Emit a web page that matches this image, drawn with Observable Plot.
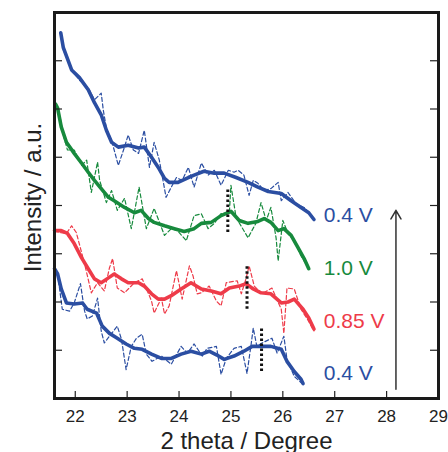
<!DOCTYPE html>
<html>
<head>
<meta charset="utf-8">
<script src="https://cdn.jsdelivr.net/npm/d3@7"></script>
<script src="https://cdn.jsdelivr.net/npm/@observablehq/plot@0.6"></script>
<style>
  html, body { margin: 0; padding: 0; background: #fff; }
</style>
</head>
<body>
<div id="chart"></div>
<script>
// ---- tick values ----
const xTicks = [22, 23, 24, 25, 26, 27, 28, 29];
const yTicks = [1, 2, 3, 4, 5, 6, 7];

// ---- 0.4 V (top, after cycling) ----
const topSmoothX = [21.72, 21.77, 21.93, 22.08, 22.25, 22.37, 22.50, 22.60, 22.70, 22.83, 23.02, 23.22, 23.33, 23.47, 23.60, 23.72, 23.81, 23.98, 24.18, 24.29, 24.48, 24.68, 24.87, 25.10, 25.33, 25.52, 25.72, 25.97, 26.16, 26.35, 26.50, 26.60];
const topSmoothY = [7.58, 7.27, 6.81, 6.65, 6.40, 6.13, 5.88, 5.56, 5.31, 5.21, 5.25, 5.19, 5.21, 5.00, 4.79, 4.56, 4.48, 4.48, 4.58, 4.63, 4.71, 4.67, 4.67, 4.58, 4.48, 4.38, 4.29, 4.25, 4.10, 3.96, 3.85, 3.71];
const topRawX = [21.72, 21.77, 21.93, 22.08, 22.25, 22.37, 22.50, 22.54, 22.60, 22.70, 22.83, 22.93, 23.02, 23.12, 23.22, 23.33, 23.43, 23.52, 23.62, 23.75, 23.85, 23.95, 24.06, 24.18, 24.29, 24.43, 24.56, 24.68, 24.81, 24.95, 25.06, 25.14, 25.25, 25.35, 25.43, 25.52, 25.64, 25.77, 25.91, 25.97, 26.10, 26.25, 26.41, 26.50, 26.60];
const topRawY = [7.58, 7.23, 6.81, 6.60, 6.44, 6.19, 6.33, 5.98, 5.60, 5.35, 4.83, 5.15, 5.46, 5.15, 5.08, 5.56, 4.79, 5.31, 4.94, 4.17, 4.38, 4.58, 4.52, 4.79, 4.38, 4.88, 4.63, 4.73, 4.42, 4.73, 4.69, 4.73, 4.63, 4.21, 4.52, 4.46, 4.31, 4.35, 4.48, 4.10, 4.27, 4.04, 3.96, 3.85, 3.71];

// ---- 1.0 V ----
const greenSmoothX = [21.62, 21.66, 21.73, 21.83, 21.98, 22.12, 22.25, 22.37, 22.50, 22.64, 22.75, 22.95, 23.14, 23.27, 23.41, 23.52, 23.72, 23.91, 24.10, 24.29, 24.43, 24.62, 24.81, 25.00, 25.16, 25.33, 25.52, 25.64, 25.77, 25.91, 26.02, 26.16, 26.29, 26.41, 26.50];
const greenSmoothY = [6.10, 6.02, 5.63, 5.31, 5.08, 4.88, 4.69, 4.52, 4.35, 4.17, 4.10, 3.96, 3.85, 3.90, 3.73, 3.65, 3.58, 3.52, 3.46, 3.52, 3.63, 3.65, 3.79, 3.88, 3.69, 3.63, 3.67, 3.73, 3.65, 3.48, 3.52, 3.38, 3.13, 2.90, 2.69];
const greenRawX = [21.62, 21.70, 21.77, 21.85, 21.98, 22.12, 22.22, 22.31, 22.43, 22.47, 22.60, 22.70, 22.81, 22.95, 23.08, 23.23, 23.37, 23.52, 23.72, 23.85, 23.97, 24.14, 24.29, 24.43, 24.56, 24.68, 24.81, 24.97, 25.00, 25.10, 25.33, 25.48, 25.58, 25.68, 25.77, 25.87, 25.91, 26.00, 26.10, 26.22, 26.35, 26.50];
const greenRawY = [6.10, 5.88, 5.46, 5.15, 5.15, 4.83, 4.94, 4.27, 4.90, 4.52, 4.06, 4.31, 3.90, 4.15, 3.52, 4.38, 3.52, 3.94, 3.38, 3.52, 3.48, 3.27, 3.79, 3.83, 3.52, 3.63, 3.83, 3.85, 4.42, 3.75, 3.33, 3.63, 4.06, 3.69, 3.96, 3.33, 2.85, 3.69, 3.42, 3.27, 2.96, 2.69];

// ---- 0.85 V ----
const redSmoothX = [21.60, 21.73, 21.85, 21.98, 22.12, 22.25, 22.37, 22.50, 22.64, 22.75, 22.89, 23.02, 23.22, 23.33, 23.47, 23.60, 23.72, 23.85, 24.04, 24.23, 24.43, 24.62, 24.81, 24.97, 25.16, 25.29, 25.43, 25.58, 25.77, 25.97, 26.10, 26.22, 26.39, 26.50, 26.60];
const redSmoothY = [3.48, 3.48, 3.42, 3.21, 2.92, 2.69, 2.48, 2.40, 2.50, 2.58, 2.48, 2.40, 2.40, 2.33, 2.17, 2.06, 2.06, 2.13, 2.27, 2.40, 2.27, 2.23, 2.17, 2.29, 2.33, 2.38, 2.27, 2.19, 2.17, 1.98, 2.00, 2.06, 1.85, 1.67, 1.44];
const redRawX = [21.60, 21.70, 21.83, 21.93, 22.02, 22.18, 22.31, 22.43, 22.56, 22.66, 22.72, 22.81, 22.95, 23.14, 23.29, 23.47, 23.52, 23.66, 23.72, 23.81, 23.95, 24.06, 24.20, 24.27, 24.35, 24.43, 24.58, 24.72, 24.81, 24.91, 25.12, 25.20, 25.29, 25.35, 25.45, 25.60, 25.79, 25.97, 26.02, 26.08, 26.22, 26.35, 26.47, 26.60];
const redRawY = [3.48, 3.44, 3.42, 3.58, 3.44, 2.79, 2.19, 2.40, 2.23, 2.71, 2.90, 2.29, 2.19, 2.40, 2.48, 2.02, 1.77, 2.08, 1.75, 1.92, 2.65, 2.06, 2.75, 2.54, 2.17, 2.19, 2.33, 2.02, 1.92, 2.40, 2.44, 2.17, 2.48, 2.75, 2.33, 2.17, 2.29, 1.85, 1.35, 2.29, 2.27, 1.85, 1.65, 1.40];

// ---- 0.4 V (bottom, initial) ----
const botSmoothX = [21.60, 21.66, 21.73, 21.83, 21.98, 22.14, 22.23, 22.41, 22.52, 22.66, 22.81, 22.98, 23.14, 23.29, 23.47, 23.66, 23.85, 24.04, 24.23, 24.43, 24.58, 24.73, 24.87, 25.06, 25.25, 25.41, 25.58, 25.77, 25.97, 26.08, 26.22, 26.35, 26.39];
const botSmoothY = [2.69, 2.58, 2.27, 1.98, 1.96, 1.98, 1.85, 1.77, 1.50, 1.35, 1.25, 1.13, 1.04, 1.02, 0.92, 0.83, 0.83, 0.92, 0.98, 0.92, 0.98, 0.90, 0.81, 0.88, 0.98, 1.08, 1.08, 1.08, 1.02, 0.77, 0.56, 0.40, 0.31];
const botRawX = [21.60, 21.66, 21.75, 21.89, 21.98, 22.10, 22.18, 22.23, 22.33, 22.43, 22.50, 22.56, 22.70, 22.81, 22.89, 22.98, 23.08, 23.18, 23.29, 23.37, 23.48, 23.66, 23.85, 24.04, 24.16, 24.29, 24.45, 24.54, 24.72, 24.81, 24.91, 25.06, 25.20, 25.31, 25.39, 25.43, 25.50, 25.60, 25.79, 25.89, 26.02, 26.08, 26.22, 26.37];
const botRawY = [2.69, 2.58, 1.85, 1.81, 1.98, 2.38, 1.81, 1.65, 1.71, 2.08, 1.40, 1.15, 1.35, 1.50, 1.23, 0.60, 1.08, 1.25, 1.33, 0.92, 0.77, 0.88, 0.71, 1.08, 0.94, 1.13, 0.88, 1.04, 1.08, 0.50, 0.83, 1.04, 1.08, 0.52, 1.13, 1.46, 1.08, 1.15, 1.25, 0.94, 1.29, 0.81, 0.46, 0.31];

// ---- dotted peak markers ----
const markerX = [24.94, 25.31, 25.59];
const markerY1 = [3.44, 1.85, 0.56];
const markerY2 = [4.35, 2.75, 1.46];

// ---- series labels ----
const labelText = ["0.4 V", "1.0 V", "0.85 V", "0.4 V"];
const labelX = [26.79, 26.79, 26.79, 26.79];
const labelY = [3.79, 2.69, 1.60, 0.52];

// ---- arrow ----
const arrowX = 28.18;
const arrowY1 = 0.19;
const arrowY2 = 3.90;

const BLUE = "#2b4ea2", GREEN = "#178a3d", RED = "#ee3b49";
const labelColors = [BLUE, GREEN, RED, BLUE];

const zip = (xs, ys) => xs.map((x, i) => ({x, y: ys[i]}));
const series = [
  {smooth: zip(topSmoothX, topSmoothY), raw: zip(topRawX, topRawY), color: BLUE},
  {smooth: zip(greenSmoothX, greenSmoothY), raw: zip(greenRawX, greenRawY), color: GREEN},
  {smooth: zip(redSmoothX, redSmoothY), raw: zip(redRawX, redRawY), color: RED},
  {smooth: zip(botSmoothX, botSmoothY), raw: zip(botRawX, botRawY), color: BLUE}
];
const markers = markerX.map((x, i) => ({x, y1: markerY1[i], y2: markerY2[i]}));
const labels = labelText.map((t, i) => ({t, x: labelX[i], y: labelY[i], c: labelColors[i]}));

const W = 448, H = 452, mL = 54, mR = 10, mT = 12, mB = 54;
const frameW = W - mL - mR, frameH = H - mT - mB;

const marks = [];
for (const s of series) {
  marks.push(Plot.line(s.raw, {x: "x", y: "y", stroke: s.color, strokeWidth: 1.2, strokeDasharray: "4,2.5"}));
}
for (const s of series) {
  marks.push(Plot.line(s.smooth, {x: "x", y: "y", stroke: s.color, strokeWidth: 3.6, curve: "linear"}));
}
marks.push(
  Plot.ruleX(markers, {x: "x", y1: "y1", y2: "y2", stroke: "#111", strokeWidth: 3, strokeDasharray: "2.5,2.5"}),
  Plot.text(labels, {x: "x", y: "y", text: "t", fill: "c", fontSize: 21, textAnchor: "start"}),
  Plot.arrow([{x: arrowX, y1: arrowY1, y2: arrowY2}], {x1: "x", y1: "y1", x2: "x", y2: "y2", stroke: "#333", strokeWidth: 1.5, headLength: 10, headAngle: 60}),
  Plot.tickX(xTicks, {x: d => d, insetTop: frameH - 7, stroke: "#222", strokeWidth: 1.2}),
  Plot.tickY(yTicks, {y: d => d, insetRight: frameW - 8, stroke: "#222", strokeWidth: 1.2}),
  Plot.tickY(yTicks, {y: d => d, insetLeft: frameW - 8, stroke: "#222", strokeWidth: 1.2}),
  Plot.axisX({ticks: xTicks, tickSize: 0, tickPadding: 11, fontSize: 17, label: null, fill: "#222"}),
  Plot.text(["2 theta / Degree"], {text: d => d, frameAnchor: "bottom", textAnchor: "middle", dy: 50, fontSize: 24, fill: "#222"}),
  Plot.text(["Intensity / a.u."], {text: d => d, frameAnchor: "left", textAnchor: "middle", rotate: -90, dx: -21, dy: -8, fontSize: 24, fill: "#222"}),
  Plot.frame({stroke: "#1a1a1a", strokeWidth: 3})
);

const chart = Plot.plot({
  width: W, height: H,
  marginLeft: mL, marginRight: mR, marginTop: mT, marginBottom: mB,
  x: {domain: [21.6, 29], axis: null},
  y: {domain: [0, 8], axis: null},
  style: {fontFamily: "'Liberation Sans', Arial, Helvetica, sans-serif", background: "#fff", overflow: "visible"},
  marks
});
document.getElementById("chart").appendChild(chart);
</script>
</body>
</html>
